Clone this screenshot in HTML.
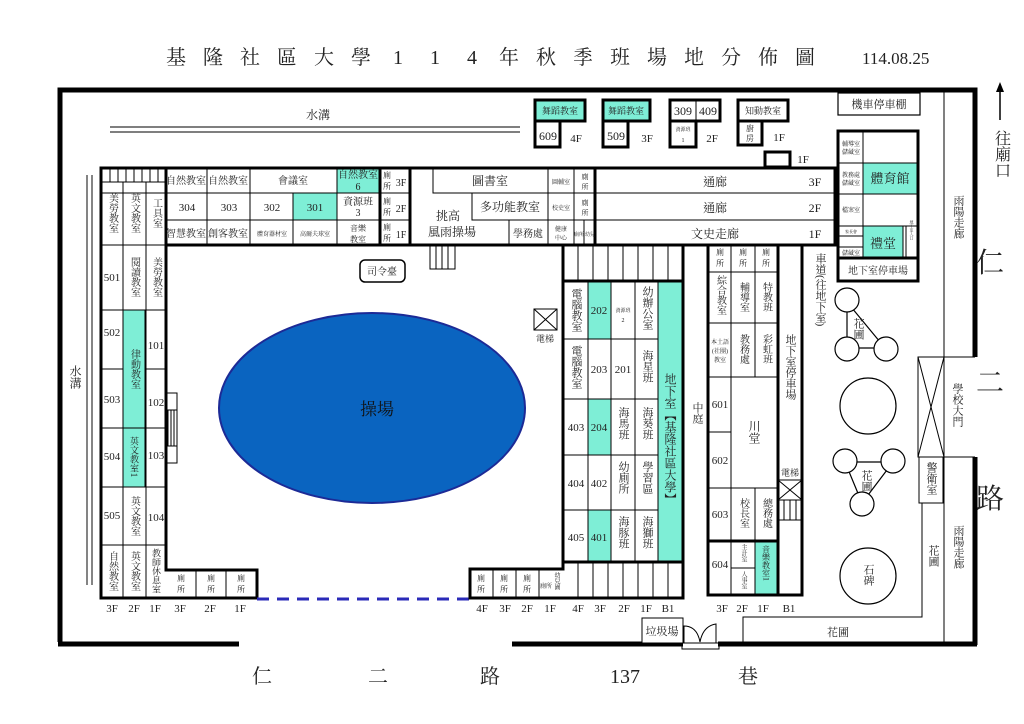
<!DOCTYPE html>
<html><head><meta charset="utf-8"><style>
html,body{margin:0;padding:0;background:#fff}
svg{display:block}
text{font-family:"Liberation Serif","Noto Serif CJK TC","Noto Serif CJK SC",serif;fill:#222}
.v{writing-mode:vertical-rl;text-anchor:middle}
.c{text-anchor:middle}
.t{fill:#7eeed6}
</style></head><body>
<svg width="1024" height="724" viewBox="0 0 1024 724" xmlns="http://www.w3.org/2000/svg">
<g font-size="20">
<text x="176" y="64" class="c">基</text><text x="213" y="64" class="c">隆</text><text x="250" y="64" class="c">社</text><text x="287" y="64" class="c">區</text><text x="324" y="64" class="c">大</text><text x="361" y="64" class="c">學</text><text x="398" y="64" class="c">1</text><text x="435" y="64" class="c">1</text><text x="472" y="64" class="c">4</text><text x="509" y="64" class="c">年</text><text x="546" y="64" class="c">秋</text><text x="583" y="64" class="c">季</text><text x="620" y="64" class="c">班</text><text x="657" y="64" class="c">場</text><text x="694" y="64" class="c">地</text><text x="731" y="64" class="c">分</text><text x="768" y="64" class="c">佈</text><text x="805" y="64" class="c">圖</text>
</g>
<text x="862" y="64" font-size="17">114.08.25</text>
<g stroke="#000" stroke-width="5" fill="none">
<polyline points="60,642 60,90 975,90 975,357"/>
<line x1="975" y1="457" x2="975" y2="645"/>
<line x1="58" y1="644" x2="239" y2="644"/>
<line x1="512" y1="644" x2="683" y2="644"/>
<line x1="718" y1="644" x2="977" y2="644"/>
</g>
<line x1="1000" y1="120" x2="1000" y2="90" stroke="#000" stroke-width="1.5"/>
<polygon points="1000,82 996,92 1004,92" fill="#000"/>
<text x="1001" y="130" class="v" font-size="16" style="text-anchor:start">往廟口</text>
<g font-size="28"><text x="990" y="272" class="c">仁</text><text x="990" y="392" class="c">二</text><text x="990" y="508" class="c">路</text></g>
<g stroke="#333" stroke-width="1.2">
<line x1="110" y1="127" x2="520" y2="127"/><line x1="110" y1="132" x2="520" y2="132"/>
<line x1="87" y1="175" x2="87" y2="585"/><line x1="92" y1="175" x2="92" y2="585"/>
</g>
<text x="318" y="119" class="c" font-size="12">水溝</text>
<text x="75" y="365" class="v" font-size="12" style="text-anchor:start">水溝</text>
<ellipse cx="372" cy="408" rx="153" ry="95" fill="#0a64c0" stroke="#1c2a96" stroke-width="2"/>
<text x="377" y="415" class="c" font-size="17" style="fill:#111">操場</text>
<rect x="360" y="260" width="45" height="22" rx="5" fill="none" stroke="#000" stroke-width="1.5"/>
<text x="382" y="275" class="c" font-size="10">司令臺</text>
<g stroke="#000" stroke-width="1" fill="none">
<rect x="430" y="245" width="25" height="24"/><line x1="436" y1="245" x2="436" y2="269"/><line x1="442" y1="245" x2="442" y2="269"/><line x1="448" y1="245" x2="448" y2="269"/>
<rect x="166" y="393" width="11" height="70"/><line x1="166" y1="410" x2="177" y2="410"/><line x1="166" y1="446" x2="177" y2="446"/>
<line x1="168" y1="410" x2="168" y2="446"/><line x1="171" y1="410" x2="171" y2="446"/><line x1="174" y1="410" x2="174" y2="446"/>
<rect x="534" y="309" width="23" height="21"/><line x1="534" y1="309" x2="557" y2="330"/><line x1="557" y1="309" x2="534" y2="330"/>
</g>
<text x="545" y="342" class="c" font-size="9">電梯</text>

<g stroke="#000" stroke-width="1" fill="#fff">
<rect x="337" y="168" width="43" height="25" class="t"/>
<rect x="293" y="193" width="44" height="27" class="t"/>
<rect x="123" y="310" width="22" height="118" class="t"/>
<rect x="123" y="428" width="22" height="59" class="t"/>
</g>
<g stroke="#000" stroke-width="1" fill="none">
<line x1="101" y1="193" x2="410" y2="193"/><line x1="166" y1="220" x2="410" y2="220"/>
<line x1="110" y1="168" x2="110" y2="182"/><line x1="118" y1="168" x2="118" y2="182"/><line x1="126" y1="168" x2="126" y2="182"/><line x1="134" y1="168" x2="134" y2="182"/><line x1="142" y1="168" x2="142" y2="182"/><line x1="150" y1="168" x2="150" y2="182"/><line x1="158" y1="168" x2="158" y2="182"/>
<line x1="123" y1="182" x2="123" y2="598"/><line x1="146" y1="182" x2="146" y2="598"/>
<line x1="101" y1="182" x2="166" y2="182"/>
<line x1="207" y1="168" x2="207" y2="245"/><line x1="250" y1="168" x2="250" y2="245"/><line x1="293" y1="193" x2="293" y2="245"/><line x1="337" y1="168" x2="337" y2="245"/><line x1="380" y1="168" x2="380" y2="245"/>
<line x1="101" y1="245" x2="166" y2="245"/>
<line x1="101" y1="310" x2="166" y2="310"/><line x1="101" y1="369" x2="123" y2="369"/><line x1="146" y1="369" x2="166" y2="369"/>
<line x1="101" y1="428" x2="166" y2="428"/><line x1="101" y1="487" x2="166" y2="487"/><line x1="101" y1="545" x2="166" y2="545"/>
<line x1="196" y1="570" x2="196" y2="598"/><line x1="226" y1="570" x2="226" y2="598"/>
</g>
<g stroke="#000" stroke-width="3" fill="none">
<polyline points="410,245 166,245 166,570 257,570 257,598 101,598 101,168 410,168 410,245"/>
<line x1="380" y1="168" x2="380" y2="245"/><line x1="166" y1="168" x2="166" y2="245"/>
</g>
<line x1="257" y1="599" x2="470" y2="599" stroke="#2a2ab8" stroke-width="3" stroke-dasharray="12,8"/>
<g font-size="10">
<text x="186" y="184" class="c">自然教室</text><text x="228" y="184" class="c">自然教室</text><text x="293" y="184" class="c">會議室</text>
<text x="358" y="178" class="c">自然教室</text><text x="358" y="190" class="c">6</text>
<text x="187" y="211" class="c" font-size="11">304</text><text x="229" y="211" class="c" font-size="11">303</text><text x="272" y="211" class="c" font-size="11">302</text><text x="315" y="211" class="c" font-size="11">301</text>
<text x="358" y="205" class="c">資源班</text><text x="358" y="216" class="c">3</text>
<text x="186" y="237" class="c">智慧教室</text><text x="228" y="237" class="c">創客教室</text>
<text x="272" y="236" class="c" font-size="6">體育器材室</text><text x="315" y="236" class="c" font-size="6">高爾夫球室</text>
<text x="358" y="231" class="c" font-size="8">音樂</text><text x="358" y="242" class="c" font-size="8">教室</text>
<text x="387" y="178" class="c" font-size="8">廁</text><text x="387" y="189" class="c" font-size="8">所</text><text x="401" y="186" class="c">3F</text>
<text x="387" y="204" class="c" font-size="8">廁</text><text x="387" y="215" class="c" font-size="8">所</text><text x="401" y="212" class="c">2F</text>
<text x="387" y="230" class="c" font-size="8">廁</text><text x="387" y="241" class="c" font-size="8">所</text><text x="401" y="238" class="c">1F</text>
<text x="112" y="213" class="v">美勞教室</text><text x="134" y="213" class="v">英文教室</text><text x="156" y="213" class="v">工具室</text>
<text x="112" y="281" class="c" font-size="11">501</text><text x="134" y="277" class="v">閱讀教室</text><text x="156" y="277" class="v">美勞教室</text>
<text x="112" y="336" class="c" font-size="11">502</text><text x="112" y="403" class="c" font-size="11">503</text><text x="112" y="460" class="c" font-size="11">504</text><text x="112" y="519" class="c" font-size="11">505</text>
<text x="156" y="349" class="c" font-size="11">101</text><text x="156" y="406" class="c" font-size="11">102</text><text x="156" y="459" class="c" font-size="11">103</text><text x="156" y="521" class="c" font-size="11">104</text>
<text x="134" y="369" class="v">律動教室</text><text x="134" y="457" class="v" font-size="9">英文教室1</text><text x="134" y="516" class="v">英文教室</text>
<text x="112" y="571" class="v">自然教室</text><text x="134" y="571" class="v">英文教室</text><text x="156" y="571" class="v" font-size="9">教師休息室</text>
<text x="181" y="581" class="c" font-size="8">廁</text><text x="181" y="592" class="c" font-size="8">所</text>
<text x="211" y="581" class="c" font-size="8">廁</text><text x="211" y="592" class="c" font-size="8">所</text>
<text x="241" y="581" class="c" font-size="8">廁</text><text x="241" y="592" class="c" font-size="8">所</text>
</g>
<g font-size="11"><text x="112" y="612" class="c">3F</text><text x="134" y="612" class="c">2F</text><text x="155" y="612" class="c">1F</text><text x="180" y="612" class="c">3F</text><text x="210" y="612" class="c">2F</text><text x="240" y="612" class="c">1F</text></g>

<g stroke="#000" stroke-width="1" fill="none">
<polyline points="433,168 433,193 472,193 472,220 509,220 509,245"/>
<line x1="472" y1="193" x2="835" y2="193"/><line x1="509" y1="220" x2="835" y2="220"/>
<line x1="548" y1="168" x2="548" y2="245"/><line x1="574" y1="168" x2="574" y2="245"/><line x1="584" y1="220" x2="584" y2="245"/>
</g>
<g stroke="#000" stroke-width="3" fill="none"><rect x="410" y="168" width="425" height="77"/><line x1="595" y1="168" x2="595" y2="245"/></g>
<g font-size="10">
<text x="490" y="185" class="c" font-size="12">圖書室</text><text x="510" y="211" class="c" font-size="12">多功能教室</text><text x="528" y="237" class="c" font-size="10">學務處</text>
<text x="561" y="184" class="c" font-size="6">圖輔室</text><text x="561" y="210" class="c" font-size="6">校史室</text>
<text x="561" y="231" class="c" font-size="6">健康</text><text x="561" y="240" class="c" font-size="6">中心</text>
<text x="585" y="179" class="c" font-size="7">廁</text><text x="585" y="189" class="c" font-size="7">所</text>
<text x="585" y="205" class="c" font-size="7">廁</text><text x="585" y="215" class="c" font-size="7">所</text>
<text x="579" y="236" class="c" font-size="5">廁所</text><text x="590" y="236" class="c" font-size="5">幼兒</text>
<text x="448" y="220" font-size="12" class="c">挑高</text><text x="452" y="236" font-size="12" class="c">風雨操場</text>
<text x="715" y="186" class="c" font-size="12">通廊</text><text x="715" y="212" class="c" font-size="12">通廊</text><text x="715" y="238" class="c" font-size="12">文史走廊</text>
<text x="815" y="186" class="c" font-size="12">3F</text><text x="815" y="212" class="c" font-size="12">2F</text><text x="815" y="238" class="c" font-size="12">1F</text>
</g>
<g stroke="#000" stroke-width="3" fill="#fff">
<rect x="535" y="100" width="50" height="21" class="t"/><rect x="535" y="121" width="25" height="26"/>
<rect x="603" y="100" width="47" height="21" class="t"/><rect x="603" y="121" width="25" height="26"/>
<rect x="670" y="100" width="50" height="21"/><rect x="670" y="121" width="26" height="26"/><line x1="696" y1="100" x2="696" y2="121" stroke-width="1"/>
<rect x="738" y="100" width="50" height="21"/><rect x="738" y="121" width="24" height="24"/>
<rect x="765" y="152" width="25" height="15"/>
</g>
<g font-size="10">
<text x="560" y="114" class="c" font-size="9">舞蹈教室</text><text x="548" y="140" class="c" font-size="12">609</text><text x="576" y="142" font-size="11" class="c">4F</text>
<text x="626" y="114" class="c" font-size="9">舞蹈教室</text><text x="616" y="140" class="c" font-size="12">509</text><text x="647" y="142" font-size="11" class="c">3F</text>
<text x="683" y="115" class="c" font-size="12">309</text><text x="708" y="115" class="c" font-size="12">409</text>
<text x="683" y="131" class="c" font-size="5">資源班</text><text x="683" y="142" class="c" font-size="6">1</text><text x="712" y="142" font-size="11" class="c">2F</text>
<text x="763" y="114" class="c" font-size="9">知動教室</text><text x="750" y="131" class="c" font-size="8">廚</text><text x="750" y="141" class="c" font-size="8">房</text><text x="779" y="141" font-size="11" class="c">1F</text>
<text x="803" y="163" font-size="11" class="c">1F</text>
</g>
<rect x="838" y="93" width="82" height="22" fill="none" stroke="#000" stroke-width="1.2"/>
<text x="879" y="108" class="c" font-size="11">機車停車棚</text>
<g stroke="#000" stroke-width="1" fill="#fff">
<rect x="863" y="163" width="55" height="31" class="t"/>
<rect x="863" y="226" width="40" height="32" class="t"/>
<line x1="838" y1="163" x2="918" y2="163"/><line x1="838" y1="194" x2="918" y2="194"/><line x1="838" y1="226" x2="918" y2="226"/>
<line x1="863" y1="131" x2="863" y2="258"/><line x1="838" y1="236" x2="863" y2="236"/><line x1="838" y1="247" x2="863" y2="247"/><line x1="906" y1="226" x2="906" y2="258"/>
</g>
<g stroke="#000" stroke-width="3" fill="none"><rect x="838" y="131" width="80" height="127"/><rect x="838" y="258" width="80" height="23"/></g>
<g font-size="6">
<text x="851" y="146" class="c">輔導室</text><text x="851" y="154" class="c">儲藏室</text>
<text x="851" y="177" class="c">教務處</text><text x="851" y="185" class="c">儲藏室</text>
<text x="851" y="212" class="c">檔案室</text><text x="851" y="233" class="c" font-size="4">家長會</text><text x="851" y="255" class="c">儲藏室</text>
<text x="912" y="230" class="v" font-size="4">地下室入口</text>
</g>
<text x="890" y="183" class="c" font-size="13">體育館</text><text x="883" y="248" class="c" font-size="13">禮堂</text>
<text x="878" y="274" class="c" font-size="10">地下室停車場</text>
<g stroke="#000" stroke-width="1" fill="none">
<line x1="944" y1="92" x2="944" y2="357"/><line x1="918" y1="357" x2="975" y2="357"/><line x1="918" y1="457" x2="975" y2="457"/>
<line x1="944" y1="457" x2="944" y2="644"/>
<rect x="918" y="357" width="26" height="100"/><line x1="918" y1="357" x2="944" y2="457"/><line x1="944" y1="357" x2="918" y2="457"/>
<rect x="919" y="457" width="24" height="46"/>
<polyline points="922,503 922,617 743,617 743,644"/>
</g>
<g font-size="11">
<text x="958" y="195" class="v" style="text-anchor:start">雨陽走廊</text>
<text x="958" y="525" class="v" style="text-anchor:start">雨陽走廊</text>
<text x="933" y="545" class="v" style="text-anchor:start">花圃</text>
<text x="957" y="383" class="v" style="text-anchor:start">學校大門</text>
<text x="931" y="462" class="v" style="text-anchor:start">警衛室</text>
<text x="838" y="636" class="c">花圃</text>
</g>
<g stroke="#000" stroke-width="1.2" fill="#fff">
<polygon points="847,302 885,348 847,348"/>
<circle cx="847" cy="300" r="12"/><circle cx="847" cy="349" r="12"/><circle cx="886" cy="349" r="12"/>
<circle cx="868" cy="406" r="28"/>
<polygon points="845,462 893,462 862,503"/>
<circle cx="845" cy="461" r="12"/><circle cx="893" cy="461" r="12"/><circle cx="862" cy="504" r="12"/>
<circle cx="868" cy="576" r="28"/>
</g>
<g font-size="11"><text x="858" y="318" class="v" style="text-anchor:start">花圃</text><text x="866" y="470" class="v" style="text-anchor:start">花圃</text><text x="868" y="564" class="v" style="text-anchor:start">石碑</text></g>
<text x="820" y="253" class="v" font-size="11" style="text-anchor:start">車道(往地下室)</text>

<g stroke="#000" stroke-width="1" fill="#fff">
<rect x="588" y="281" width="23" height="58" class="t"/><rect x="588" y="399" width="23" height="56" class="t"/><rect x="588" y="510" width="23" height="52" class="t"/>
<rect x="658" y="281" width="24" height="281" class="t"/>
</g>
<g stroke="#000" stroke-width="1" fill="none">
<line x1="578" y1="245" x2="578" y2="281"/><line x1="593" y1="245" x2="593" y2="281"/><line x1="608" y1="245" x2="608" y2="281"/><line x1="623" y1="245" x2="623" y2="281"/><line x1="638" y1="245" x2="638" y2="281"/><line x1="653" y1="245" x2="653" y2="281"/><line x1="668" y1="245" x2="668" y2="281"/>
<line x1="578" y1="562" x2="578" y2="598"/><line x1="593" y1="562" x2="593" y2="598"/><line x1="608" y1="562" x2="608" y2="598"/><line x1="623" y1="562" x2="623" y2="598"/><line x1="638" y1="562" x2="638" y2="598"/><line x1="653" y1="562" x2="653" y2="598"/><line x1="668" y1="562" x2="668" y2="598"/>
<line x1="563" y1="339" x2="658" y2="339"/><line x1="563" y1="399" x2="658" y2="399"/><line x1="563" y1="455" x2="658" y2="455"/><line x1="563" y1="510" x2="658" y2="510"/>
<line x1="588" y1="281" x2="588" y2="562"/><line x1="611" y1="281" x2="611" y2="562"/><line x1="635" y1="281" x2="635" y2="562"/>
<line x1="493" y1="569" x2="493" y2="598"/><line x1="516" y1="569" x2="516" y2="598"/><line x1="539" y1="569" x2="539" y2="598"/>
</g>
<g stroke="#000" stroke-width="3" fill="none">
<polyline points="563,245 683,245 683,598 470,598 470,569 563,569 563,245"/>
<line x1="563" y1="281" x2="683" y2="281"/><line x1="563" y1="562" x2="683" y2="562"/>
</g>
<g font-size="11">
<text x="576" y="288" class="v" style="text-anchor:start">電腦教室</text><text x="599" y="314" class="c">202</text>
<text x="623" y="312" class="c" font-size="5">資源班</text><text x="623" y="322" class="c" font-size="6">2</text>
<text x="647" y="286" class="v" style="text-anchor:start">幼辦公室</text>
<text x="576" y="345" class="v" style="text-anchor:start">電腦教室</text><text x="599" y="373" class="c">203</text><text x="623" y="373" class="c">201</text><text x="647" y="350" class="v" style="text-anchor:start">海星班</text>
<text x="576" y="431" class="c">403</text><text x="599" y="431" class="c">204</text><text x="623" y="407" class="v" style="text-anchor:start">海馬班</text><text x="647" y="407" class="v" style="text-anchor:start">海葵班</text>
<text x="576" y="487" class="c">404</text><text x="599" y="487" class="c">402</text><text x="623" y="461" class="v" style="text-anchor:start">幼廁所</text><text x="647" y="461" class="v" style="text-anchor:start">學習區</text>
<text x="576" y="541" class="c">405</text><text x="599" y="541" class="c">401</text><text x="623" y="516" class="v" style="text-anchor:start">海豚班</text><text x="647" y="516" class="v" style="text-anchor:start">海獅班</text>
<text x="670" y="373" class="v" font-size="12" style="text-anchor:start">地下室【基隆社區大學】</text>
<text x="697" y="402" class="v" style="text-anchor:start">中庭</text>
</g>
<g font-size="8"><text x="481" y="581" class="c">廁</text><text x="481" y="592" class="c">所</text><text x="504" y="581" class="c">廁</text><text x="504" y="592" class="c">所</text><text x="527" y="581" class="c">廁</text><text x="527" y="592" class="c">所</text>
<text x="546" y="588" class="c" font-size="6">廁所</text><text x="556" y="572" class="v" font-size="6" style="text-anchor:start">幼兒園</text></g>
<g font-size="11"><text x="482" y="612" class="c">4F</text><text x="505" y="612" class="c">3F</text><text x="527" y="612" class="c">2F</text><text x="550" y="612" class="c">1F</text><text x="578" y="612" class="c">4F</text><text x="600" y="612" class="c">3F</text><text x="624" y="612" class="c">2F</text><text x="646" y="612" class="c">1F</text><text x="668" y="612" class="c">B1</text></g>
<rect x="642" y="618" width="41" height="25" fill="#fff" stroke="#000" stroke-width="1"/>
<text x="662" y="635" class="c" font-size="11">垃圾場</text>
<g stroke="#000" stroke-width="1" fill="none"><path d="M684,643 L684,626 Q697,626 700,642"/><path d="M716,643 L716,624 Q703,626 700,642"/><rect x="682" y="643" width="37" height="6"/></g>

<g stroke="#000" stroke-width="1" fill="#fff"><rect x="755" y="541" width="23" height="54" class="t"/></g>
<g stroke="#000" stroke-width="1" fill="none">
<line x1="708" y1="272" x2="778" y2="272"/><line x1="708" y1="323" x2="778" y2="323"/><line x1="708" y1="377" x2="778" y2="377"/><line x1="708" y1="432" x2="731" y2="432"/><line x1="708" y1="488" x2="778" y2="488"/>
<line x1="731" y1="245" x2="731" y2="595"/><line x1="755" y1="245" x2="755" y2="377"/><line x1="755" y1="488" x2="755" y2="595"/>
<line x1="731" y1="568" x2="755" y2="568"/>
<rect x="778" y="480" width="24" height="20"/><line x1="778" y1="480" x2="802" y2="500"/><line x1="802" y1="480" x2="778" y2="500"/>
<line x1="784" y1="500" x2="784" y2="520"/><line x1="790" y1="500" x2="790" y2="520"/><line x1="796" y1="500" x2="796" y2="520"/><line x1="778" y1="520" x2="802" y2="520"/>
</g>
<g stroke="#000" stroke-width="3" fill="none"><rect x="708" y="245" width="94" height="350"/><line x1="778" y1="245" x2="778" y2="595"/><line x1="708" y1="541" x2="778" y2="541"/></g>
<g font-size="10">
<text x="720" y="255" class="c" font-size="8">廁</text><text x="720" y="266" class="c" font-size="8">所</text>
<text x="743" y="255" class="c" font-size="8">廁</text><text x="743" y="266" class="c" font-size="8">所</text>
<text x="766" y="255" class="c" font-size="8">廁</text><text x="766" y="266" class="c" font-size="8">所</text>
<text x="720" y="275" class="v" style="text-anchor:start">綜合教室</text><text x="743" y="282" class="v" style="text-anchor:start">輔導室</text><text x="766" y="282" class="v" style="text-anchor:start">特教班</text>
<text x="720" y="344" class="c" font-size="6">本土語</text><text x="720" y="353" class="c" font-size="6">(社團)</text><text x="720" y="362" class="c" font-size="6">教室</text>
<text x="743" y="334" class="v" style="text-anchor:start">教務處</text><text x="766" y="334" class="v" style="text-anchor:start">彩虹班</text>
<text x="720" y="408" class="c" font-size="11">601</text><text x="720" y="464" class="c" font-size="11">602</text>
<text x="754" y="420" class="v" font-size="12" style="text-anchor:start">川堂</text>
<text x="720" y="518" class="c" font-size="11">603</text><text x="743" y="498" class="v" style="text-anchor:start">校長室</text><text x="766" y="498" class="v" style="text-anchor:start">總務處</text>
<text x="720" y="568" class="c" font-size="11">604</text><text x="743" y="544" class="v" font-size="6" style="text-anchor:start">主計室</text><text x="743" y="571" class="v" font-size="6" style="text-anchor:start">人事室</text>
<text x="766" y="545" class="v" font-size="8" style="text-anchor:start">音樂教室1</text>
<text x="790" y="334" class="v" font-size="11" style="text-anchor:start">地下室停車場</text>
<text x="790" y="476" class="c" font-size="9">電梯</text>
</g>
<g font-size="11"><text x="722" y="612" class="c">3F</text><text x="742" y="612" class="c">2F</text><text x="763" y="612" class="c">1F</text><text x="789" y="612" class="c">B1</text></g>

<g font-size="20"><text x="262" y="683" class="c">仁</text><text x="378" y="683" class="c">二</text><text x="490" y="683" class="c">路</text><text x="625" y="683" class="c">137</text><text x="748" y="683" class="c">巷</text></g>
</svg>
</body></html>
